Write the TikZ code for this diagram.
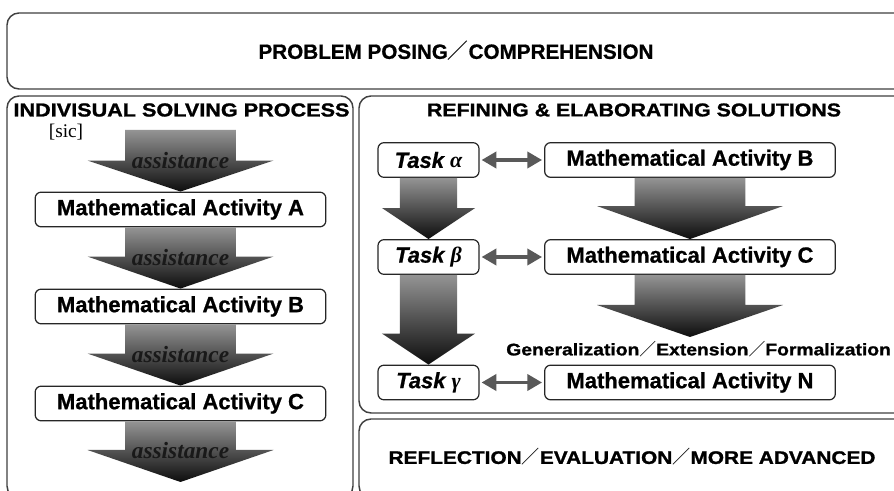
\documentclass[tikz,border=0pt]{standalone}
\usepackage{fontspec}
\setmainfont{Liberation Serif}
\setsansfont{Liberation Sans}
\newfontfamily\widebold[FakeStretch=1.15,FakeBold=1.2,UprightFont={* Bold}]{Liberation Sans}
\newfontfamily\heavysans[FakeBold=0.8,UprightFont={* Bold},ItalicFont={* Bold Italic}]{Liberation Sans}
\newfontfamily\cjkfont{Noto Sans CJK JP}
\usetikzlibrary{arrows.meta,calc}
\newcommand\fsl{{\cjkfont\char"FF0F}}
\newcommand\fatarrow[5]{%
  \path[fatarrowstyle] let \p1=(#1), \p2=(#2) in
  (\x2-#3,\y1) -- (\x2+#3,\y1) -- (\x2+#3,\y2+#5) -- (\x2+#4,\y2+#5) -- (\x2,\y2)
  -- (\x2-#4,\y2+#5) -- (\x2-#3,\y2+#5) -- cycle;}
\tikzset{
  outerbox/.style={draw=black!75, line width=1.1pt, rounded corners=9pt},
  actbox/.style={draw=black!85, line width=0.9pt, rounded corners=4.5pt, fill=white,
    minimum width=218pt, minimum height=26pt, inner sep=0pt,
    font=\heavysans\fontsize{16.5}{18}\selectfont},
  taskbox/.style={actbox, minimum width=75.75pt},
  titletext/.style={font=\widebold\fontsize{13.9}{15}\selectfont, inner sep=0pt},
  assist/.style={font=\rmfamily\bfseries\itshape\fontsize{17.5}{20}\selectfont, text=black!90, inner sep=0pt},
  fatarrowstyle/.style={top color=black!42, bottom color=black!95, draw=none},
  dblarrow/.style={{Triangle[length=11pt,width=12pt]}-{Triangle[length=11pt,width=12pt]},
    line width=2.6pt, draw=black!65, shorten <=1.5pt, shorten >=1.5pt},
}
\begin{document}
\begin{tikzpicture}[x=0.75pt,y=-0.75pt]
\useasboundingbox (0,0) rectangle (894,491);
\fill[white] (0,0) rectangle (894,491);
\clip (0,0) rectangle (894,491);

% outer boxes
\draw[outerbox] (7,13) rectangle (910,89);
\draw[outerbox] (7,96) rectangle (353,498);
\draw[outerbox] (359,96) rectangle (910,413);
\draw[outerbox] (359,419) rectangle (910,498);

% titles
\node[font=\sffamily\bfseries\fontsize{15.5}{17}\selectfont, inner sep=0pt] (ppc) at (456,51) {\heavysans PROBLEM POSING\fsl COMPREHENSION};
\node[titletext, font=\widebold\fontsize{14.1}{15}\selectfont] (isp) at (181.5,110) {INDIVISUAL SOLVING PROCESS};
\node[font=\rmfamily\fontsize{14.5}{16}\selectfont, inner sep=0pt] (sic) at (66,132) {[sic]};
\node[titletext] (res) at (634,110) {REFINING \& ELABORATING SOLUTIONS};
\node[titletext, font=\widebold\fontsize{12.6}{14}\selectfont, anchor=west] (gen) at (506,349) {Generalization\fsl Extension\fsl Formalization};
\node[titletext, font=\widebold\fontsize{13.6}{15}\selectfont] (ref) at (632,457) {REFLECTION\fsl EVALUATION\fsl MORE ADVANCED};

% left column
\coordinate (s0) at (180.5,130);
\node[actbox] (A) at (180.5,209.5) {Mathematical Activity A};
\node[actbox] (B) at (180.5,306.5) {Mathematical Activity B};
\node[actbox] (C) at (180.5,403.5) {Mathematical Activity C};
\coordinate (e0) at (180.5,482);
\fatarrow{s0}{A.north}{41.6pt}{69.75pt}{23.25pt}
\fatarrow{A.south}{B.north}{41.6pt}{69.75pt}{24pt}
\fatarrow{B.south}{C.north}{41.6pt}{69.75pt}{24pt}
\fatarrow{C.south}{e0}{41.6pt}{69.75pt}{24pt}
\node[assist] (as1) at (180.5,161) {assistance};
\node[assist] (as2) at (180.5,258) {assistance};
\node[assist] (as3) at (180.5,355) {assistance};
\node[assist] (as4) at (180.5,451) {assistance};

% right column
\node[taskbox] (ta) at (428.5,160) {\itshape Task {\rmfamily\bfseries\itshape α}};
\node[taskbox] (tb) at (428.5,257) {\itshape Task {\rmfamily\bfseries\itshape β}};
\node[taskbox] (tc) at (428.5,382.5) {\itshape Task {\rmfamily\bfseries\itshape γ}};
\node[actbox] (mb) at (690,160) {Mathematical Activity B};
\node[actbox] (mc) at (690,257) {Mathematical Activity C};
\node[actbox] (mn) at (690,382.5) {Mathematical Activity N};
\coordinate (gtip) at (690,337);
\fatarrow{ta.south}{tb.north}{21.4pt}{34.9pt}{23.25pt}
\fatarrow{tb.south}{tc.north}{21.4pt}{34.9pt}{23.25pt}
\fatarrow{mb.south}{mc.north}{41.6pt}{69.75pt}{24.75pt}
\fatarrow{mc.south}{gtip}{41.6pt}{69.75pt}{24pt}
\draw[dblarrow] (ta.east) -- (mb.west);
\draw[dblarrow] (tb.east) -- (mc.west);
\draw[dblarrow] (tc.east) -- (mn.west);
\end{tikzpicture}
\end{document}
